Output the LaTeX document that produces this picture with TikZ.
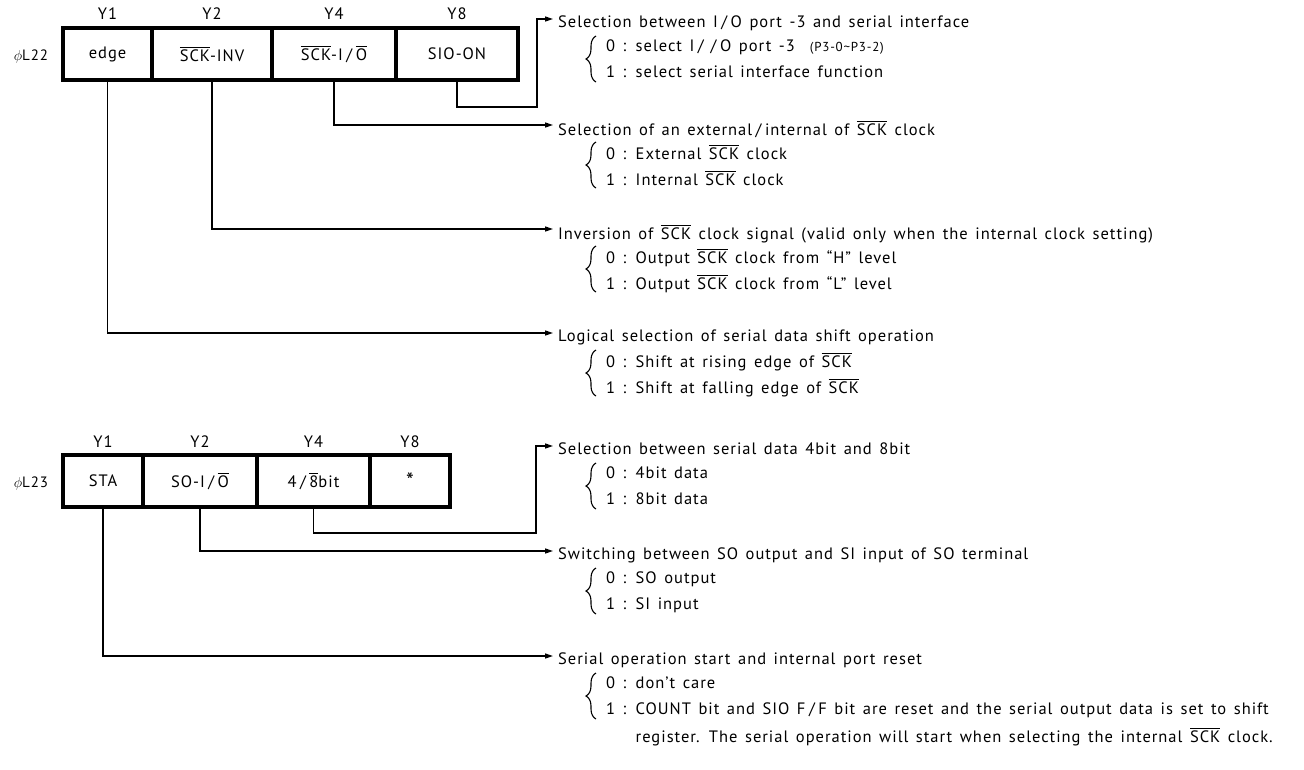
\documentclass[tikz,border=0pt]{standalone}
\usepackage{fontspec}
\setmainfont[LetterSpace=6,WordSpace=1.4]{PT Sans}
\usetikzlibrary{arrows.meta,decorations.pathreplacing}
\newcommand\ovl[1]{\leavevmode\vbox{\hrule height 1.2pt\kern1.4pt\hbox{#1}}}
\newcommand\slsh{\hspace{3.5pt}/\hspace{3.5pt}}
\begin{document}
\begin{tikzpicture}[x=1pt,y=-1pt,
  cell/.style={draw, line width=3.2pt, minimum height=52pt, inner sep=0pt, font=\fontsize{16.5}{18}\selectfont},
  ylab/.style={inner sep=0pt, font=\fontsize{16.5}{18}\selectfont},
  reg/.style={inner sep=0pt, font=\fontsize{15}{17}\selectfont},
  conn/.style={line width=1.4pt, -{Triangle[length=8pt,width=5pt]}},
  hdr/.style={anchor=west, inner xsep=5pt, inner ysep=0pt, text depth=0pt, yshift=-3pt, font=\fontsize{16.5}{18}\selectfont},
  item/.style={anchor=west, inner sep=0pt, text depth=0pt, font=\fontsize{16.5}{18}\selectfont},
  brc/.style={decorate, decoration={brace, amplitude=10pt}, line width=1.1pt}]
\useasboundingbox (0,0) rectangle (1304,769);

% ---------- register phi L22 ----------
\node[reg] (r22) at (31,57) {$\phi$L22};
\node[cell, minimum width=89pt]  (a1) at (107.5,54) {edge};
\node[cell, minimum width=120pt] (a2) at (212,54) {\ovl{SCK}-INV};
\node[cell, minimum width=124pt] (a4) at (334,54) {\ovl{SCK}-I\slsh\ovl{O}};
\node[cell, minimum width=122pt] (a8) at (457,54) {SIO-ON};
\node[ylab] (ya1) at ([yshift=40pt]a1.center) {Y1};
\node[ylab] (ya2) at ([yshift=40pt]a2.center) {Y2};
\node[ylab] (ya4) at ([yshift=40pt]a4.center) {Y4};
\node[ylab] (ya8) at ([yshift=40pt]a8.center) {Y8};

\node[hdr] (h1) at (553,19) {Selection between I\slsh O port -3 and serial interface};
\node[item] (h1a) at (606,46) {0 : select I\slsh\slsh O port -3 \ {\fontsize{13}{15}\selectfont(P3-0\textasciitilde P3-2)}};
\node[item] (h1b) at (606,72) {1 : select serial interface function};
\node[hdr] (h2) at (553,125) {Selection of an external\slsh internal of \ovl{SCK} clock};
\node[item] (h2a) at (606,152) {0 : External \ovl{SCK} clock};
\node[item] (h2b) at (606,178) {1 : Internal \ovl{SCK} clock};
\node[hdr] (h3) at (553,229) {Inversion of \ovl{SCK} clock signal (valid only when the internal clock setting)};
\node[item] (h3a) at (606,256) {0 : Output \ovl{SCK} clock from “H” level};
\node[item] (h3b) at (606,282) {1 : Output \ovl{SCK} clock from “L” level};
\node[hdr] (h4) at (553,333) {Logical selection of serial data shift operation};
\node[item] (h4a) at (606,360) {0 : Shift at rising edge of \ovl{SCK}};
\node[item] (h4b) at (606,386) {1 : Shift at falling edge of \ovl{SCK}};

\coordinate (k1) at (537,107);
\draw[conn] (a8.south) |- (k1) |- ([yshift=3pt]h1.west);
\draw[conn] (a4.south) |- ([yshift=3pt]h2.west);
\draw[conn] (a2.south) |- ([yshift=3pt]h3.west);
\draw[conn] (a1.south) |- ([yshift=3pt]h4.west);

\draw[brc] (596,82) -- (596,36);
\draw[brc] (596,188) -- (596,142);
\draw[brc] (596,292) -- (596,246);
\draw[brc] (596,396) -- (596,350);

% ---------- register phi L23 ----------
\node[reg] (r23) at (31,484) {$\phi$L23};
\node[cell, minimum width=80pt]  (b1) at (103,481) {STA};
\node[cell, minimum width=114pt] (b2) at (200,481) {SO-I\slsh\ovl{O}};
\node[cell, minimum width=113pt] (b4) at (313.5,481) {4\slsh\ovl{8}bit};
\node[cell, minimum width=80pt, font=\fontsize{22}{22}\selectfont]  (b8) at (410,481) {*};
\node[ylab] (yb1) at ([yshift=39pt]b1.center) {Y1};
\node[ylab] (yb2) at ([yshift=39pt]b2.center) {Y2};
\node[ylab] (yb4) at ([yshift=39pt]b4.center) {Y4};
\node[ylab] (yb8) at ([yshift=39pt]b8.center) {Y8};

\node[hdr] (g1) at (553,446) {Selection between serial data 4bit and 8bit};
\node[item] (g1a) at (606,473) {0 : 4bit data};
\node[item] (g1b) at (606,499) {1 : 8bit data};
\node[hdr] (g2) at (553,551) {Switching between SO output and SI input of SO terminal};
\node[item] (g2a) at (606,578) {0 : SO output};
\node[item] (g2b) at (606,604) {1 : SI input};
\node[hdr] (g3) at (553,656) {Serial operation start and internal port reset};
\node[item] (g3a) at (606,683) {0 : don’t care};
\node[item] (g3b) at (606,709) {1 : COUNT bit and SIO F\slsh F bit are reset and the serial output data is set to shift};
\node[item] (g3c) at (606,735) {\phantom{1 : }register. The serial operation will start when selecting the internal \ovl{SCK} clock.};

\coordinate (k2) at (536,533);
\draw[conn] (b4.south) |- (k2) |- ([yshift=3pt]g1.west);
\draw[conn] (b2.south) |- ([yshift=3pt]g2.west);
\draw[conn] (b1.south) |- ([yshift=3pt]g3.west);

\draw[brc] (596,509) -- (596,463);
\draw[brc] (596,614) -- (596,568);
\draw[brc] (596,719) -- (596,673);
\end{tikzpicture}
\end{document}
